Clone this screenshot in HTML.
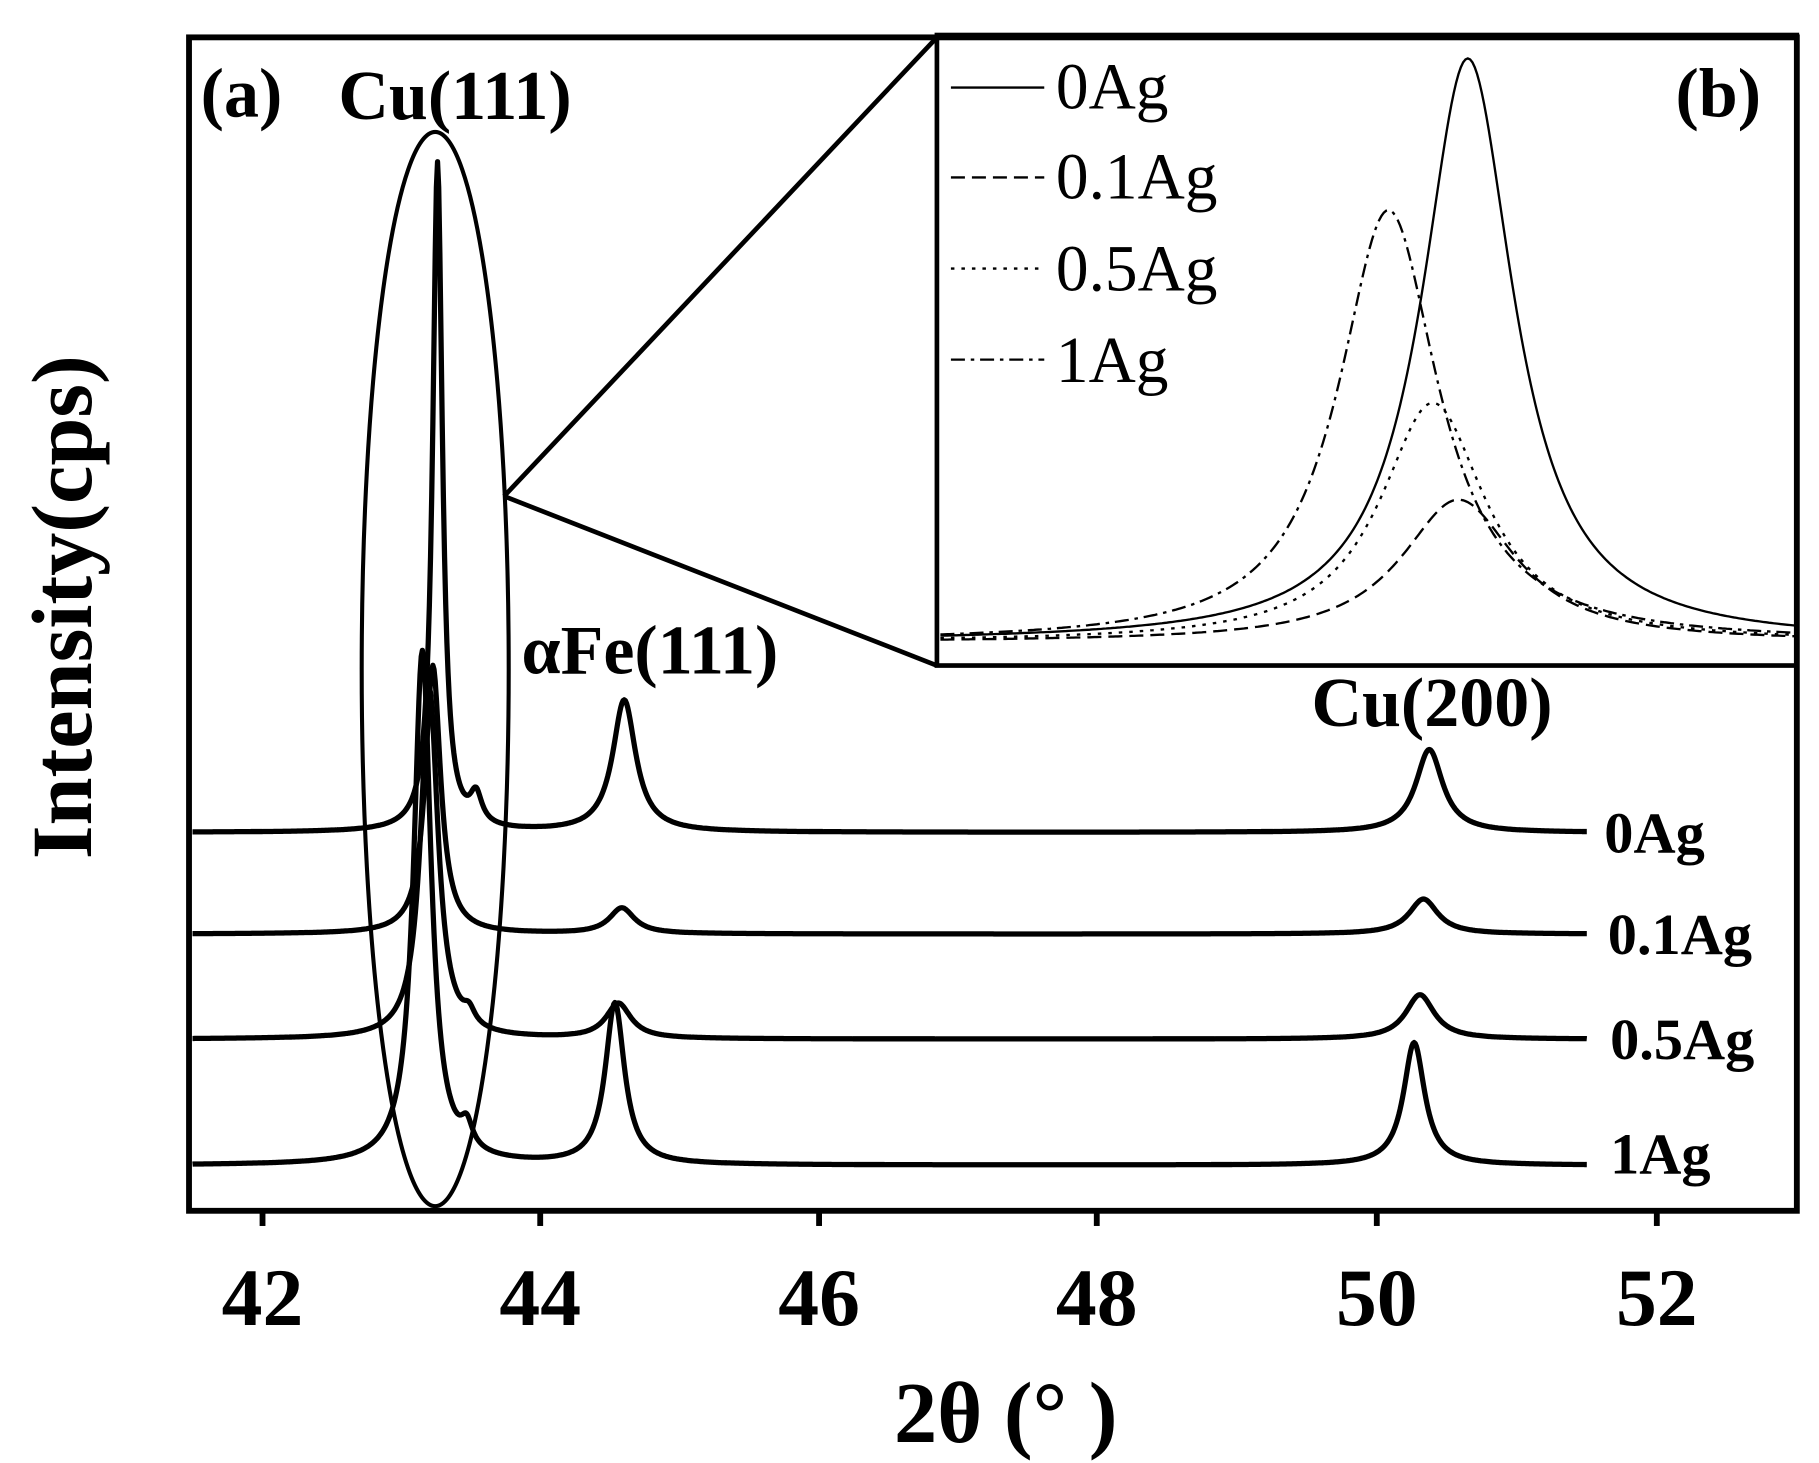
<!DOCTYPE html>
<html><head><meta charset="utf-8"><style>
html,body{margin:0;padding:0;background:#fff;}
svg{display:block;}
</style></head><body>
<svg id="s" width="1819" height="1463" viewBox="0 0 1559 1253" preserveAspectRatio="none" xmlns="http://www.w3.org/2000/svg" font-family="Liberation Serif, serif">
<rect x="0" y="0" width="1559" height="1253" fill="#fff"/>
<g id="main" fill="none" stroke="#000" stroke-width="4.5" stroke-linejoin="round"></g>
<g id="inset" fill="none" stroke="#000" stroke-width="2"></g>
<rect x="803" y="30" width="737" height="540" fill="none" stroke="#000" stroke-width="4"/>
<rect x="162" y="32" width="1378" height="1005" fill="none" stroke="#000" stroke-width="5"/>
<ellipse cx="373" cy="573" rx="63" ry="460" fill="none" stroke="#000" stroke-width="3.5"/>
<line x1="432" y1="425" x2="803" y2="32" stroke="#000" stroke-width="4"/>
<line x1="432" y1="425" x2="803" y2="570" stroke="#000" stroke-width="4"/>
<g stroke="#000" stroke-width="5">
<line x1="225" y1="1037" x2="225" y2="1050"/><line x1="463" y1="1037" x2="463" y2="1050"/><line x1="702" y1="1037" x2="702" y2="1050"/><line x1="940" y1="1037" x2="940" y2="1050"/><line x1="1180" y1="1037" x2="1180" y2="1050"/><line x1="1420" y1="1037" x2="1420" y2="1050"/>
</g>
<g font-weight="bold" font-size="70" text-anchor="middle">
<text x="225" y="1135">42</text><text x="463" y="1135">44</text><text x="702" y="1135">46</text><text x="940" y="1135">48</text><text x="1180" y="1135">50</text><text x="1420" y="1135">52</text>
<text x="862" y="1235" font-size="74">2θ (°  )</text>
<text transform="translate(78,520) rotate(-90)" font-size="74">Intensity(cps)</text>
</g>
<g font-weight="bold" font-size="60">
<text x="172" y="100">(a)</text>
<text x="290" y="102">Cu(111)</text>
<text x="1436" y="100">(b)</text>
<text x="447" y="577">αFe(111)</text>
<text x="1124" y="622">Cu(200)</text>
</g>
<g font-weight="bold" font-size="50">
<text x="1375" y="730">0Ag</text>
<text x="1378" y="817">0.1Ag</text>
<text x="1380" y="907">0.5Ag</text>
<text x="1380" y="1005">1Ag</text>
</g>
<g font-size="56">
<text x="905" y="93">0Ag</text>
<text x="905" y="170">0.1Ag</text>
<text x="905" y="249">0.5Ag</text>
<text x="905" y="327">1Ag</text>
</g>
<g stroke="#000" stroke-width="2">
<line x1="815" y1="75" x2="895" y2="75"/>
<line x1="815" y1="152" x2="895" y2="152" stroke-dasharray="12,6"/>
<line x1="815" y1="230" x2="895" y2="230" stroke-dasharray="3,6"/>
<line x1="815" y1="308" x2="895" y2="308" stroke-dasharray="12,5,3,5"/>
</g>
</svg>
<script>
function L(x,c,h,w){return h*w*w/((x-c)*(x-c)+w*w);}
function path(x0,x1,step,f){var d="";for(var x=x0;x<=x1;x+=step){d+=(d?"L":"M")+x.toFixed(1)+","+f(x).toFixed(1);}return d;}
var main=[
 [713,[[375,573,5],[408,25,6],[535,113,12],[1225,71,14]]],
 [800,[[371,230,8],[533,22,13],[1220,30,15]]],
 [890,[[368,300,9],[402,12,6],[530,30,13],[1217,38,15]]],
 [998,[[362,440,9],[400,20,6],[527,138,10],[1212,105,11]]]
];
var g=document.getElementById("main"),ns="http://www.w3.org/2000/svg";
main.forEach(function(m){var p=document.createElementNS(ns,"path");
p.setAttribute("d",path(165,1360,1,function(x){var y=m[0];m[1].forEach(function(k){y-=L(x,k[0],k[1],k[2]);});return y;}));g.appendChild(p);});
var ins=[
 [1258,500,48,null],
 [1250,122,60,"12,6"],
 [1228,205,55,"3,6"],
 [1190,370,52,"12,5,3,5"]
];
var gi=document.getElementById("inset");
ins.forEach(function(k){var p=document.createElementNS(ns,"path");
p.setAttribute("d",path(806,1538,2,function(x){return 550-L(x,k[0],k[1],k[2]);}));
if(k[3])p.setAttribute("stroke-dasharray",k[3]);gi.appendChild(p);});
</script>
</body></html>
